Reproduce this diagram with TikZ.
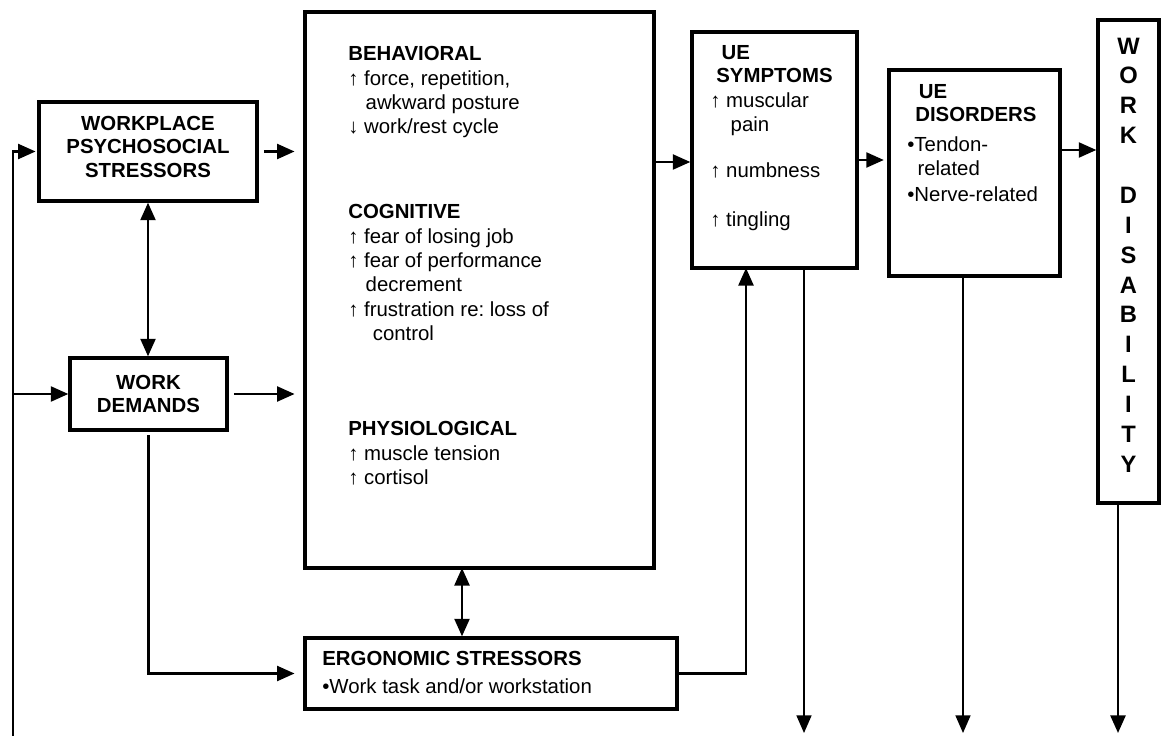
\documentclass[tikz,border=0pt]{standalone}
\usepackage{fontspec}
\setmainfont{Liberation Sans}
\usetikzlibrary{arrows.meta}
\tikzset{
  box/.style={draw, line width=1.9pt, inner sep=0pt},
  arr/.style={-{Triangle[length=10pt,width=8.5pt]}, line width=1.5pt},
  dbl/.style={{Triangle[length=10pt,width=8.5pt]}-{Triangle[length=10pt,width=8.5pt]}, line width=1.5pt},
  thinarr/.style={arr, line width=0.9pt},
  txt/.style={inner sep=0pt, align=left, font=\fontsize{11.6}{13.9}\selectfont},
  head/.style={txt, font=\fontsize{11.6}{13.4}\selectfont\bfseries},
}
\begin{document}
\begin{tikzpicture}[x=0.02cm,y=-0.02cm]
\useasboundingbox (0,0) rectangle (1167,736);
% boxes
\node[box, head, align=center, text depth=5.5pt, minimum width=4.36cm, minimum height=1.98cm] (wps) at (148,151.5) {WORKPLACE\\PSYCHOSOCIAL\\STRESSORS};
\node[box, head, align=center, minimum width=3.14cm, minimum height=1.44cm] (wd) at (148.5,394) {WORK\\DEMANDS};
\node[box, minimum width=6.98cm, minimum height=11.12cm] (resp) at (479.5,290) {};
\node[box, minimum width=3.3cm, minimum height=4.72cm] (sym) at (774.5,150) {};
\node[box, minimum width=3.42cm, minimum height=4.12cm] (dis) at (974.5,173) {};
\node[box, minimum width=1.22cm, minimum height=9.66cm] (wdis) at (1128.5,261.5) {};
\node[box, minimum width=7.44cm, minimum height=1.42cm] (ergo) at (491,673.5) {};
% texts
\node[txt, anchor=north west] (beh) at (348,46) {\textbf{BEHAVIORAL}\\↑ force, repetition,\\\hspace*{0.85em}awkward posture\\↓ work/rest cycle};
\node[txt, anchor=north west] (cog) at (348,204) {\textbf{COGNITIVE}\\↑ fear of losing job\\↑ fear of performance\\\hspace*{0.85em}decrement\\↑ frustration re:\ loss of\\\hspace*{1.2em}control};
\node[txt, anchor=north west] (phys) at (348,421) {\textbf{PHYSIOLOGICAL}\\↑ muscle tension\\↑ cortisol};
\node[head, anchor=north west] (symh) at (716,45) {\hspace*{3pt}UE\\SYMPTOMS};
\node[txt, anchor=north west] (sym1) at (710,92) {↑ muscular\\\hspace*{1em}pain};
\node[txt, anchor=base west] (sym2) at (710,178) {↑ numbness};
\node[txt, anchor=base west] (sym3) at (710,227) {↑ tingling};
\node[head, anchor=north west] (dish) at (915,84) {\hspace*{2pt}UE\\DISORDERS};
\node[txt, anchor=north west] (dis1) at (907,136) {•Tendon-\\\hspace*{0.5em}related};
\node[txt, anchor=base west] (dis2) at (907,202) {•Nerve-related};
\node[txt, anchor=north west] (ergt) at (322,651) {\textbf{ERGONOMIC STRESSORS}\\[2pt]•Work task and/or workstation};
\node[align=center, inner sep=0pt, font=\fontsize{13.5}{17}\selectfont\bfseries] (wdtxt) at (1128.5,255) {W\\O\\R\\K\\[17pt]D\\I\\S\\A\\B\\I\\L\\I\\T\\Y};
% connectors
\coordinate (fbb) at (13,736);
\draw[arr, shorten >=1pt] (fbb) |- (wps.west);
\draw[arr] (fbb |- wd.west) -- (wd.west);
\draw[arr, shorten <=3pt, shorten >=5pt] (wps.east) -- (wps.east -| resp.west);
\draw[arr, shorten <=3pt, shorten >=5pt] (wd.east) -- (wd.east -| resp.west);
\draw[dbl] (wps.south) -- (wps.south |- wd.north);
\draw[arr, shorten <=2pt, shorten >=5pt] (wd.south) |- (ergo.west);
\coordinate (rb) at (462,568);
\draw[dbl] (rb) -- (rb |- ergo.north);
\coordinate (rs) at (654,162);
\draw[arr] (rs) -- (rs -| sym.west);
\coordinate (sd) at (857,160);
\draw[arr, shorten >=2pt] (sd) -- (sd -| dis.west);
\coordinate (dw) at (1060,150);
\draw[arr] (dw) -- (dw -| wdis.west);
\coordinate (es) at (746,268);
\draw[arr] (ergo.east) -| (es);
\coordinate (sbot) at (804,733);
\draw[thinarr] (sbot |- sym.south) -- (sbot);
\coordinate (dbot) at (963,733);
\draw[thinarr] (dbot |- dis.south) -- (dbot);
\coordinate (wbot) at (1118,733);
\draw[arr] (wbot |- wdis.south) -- (wbot);
\end{tikzpicture}
\end{document}
